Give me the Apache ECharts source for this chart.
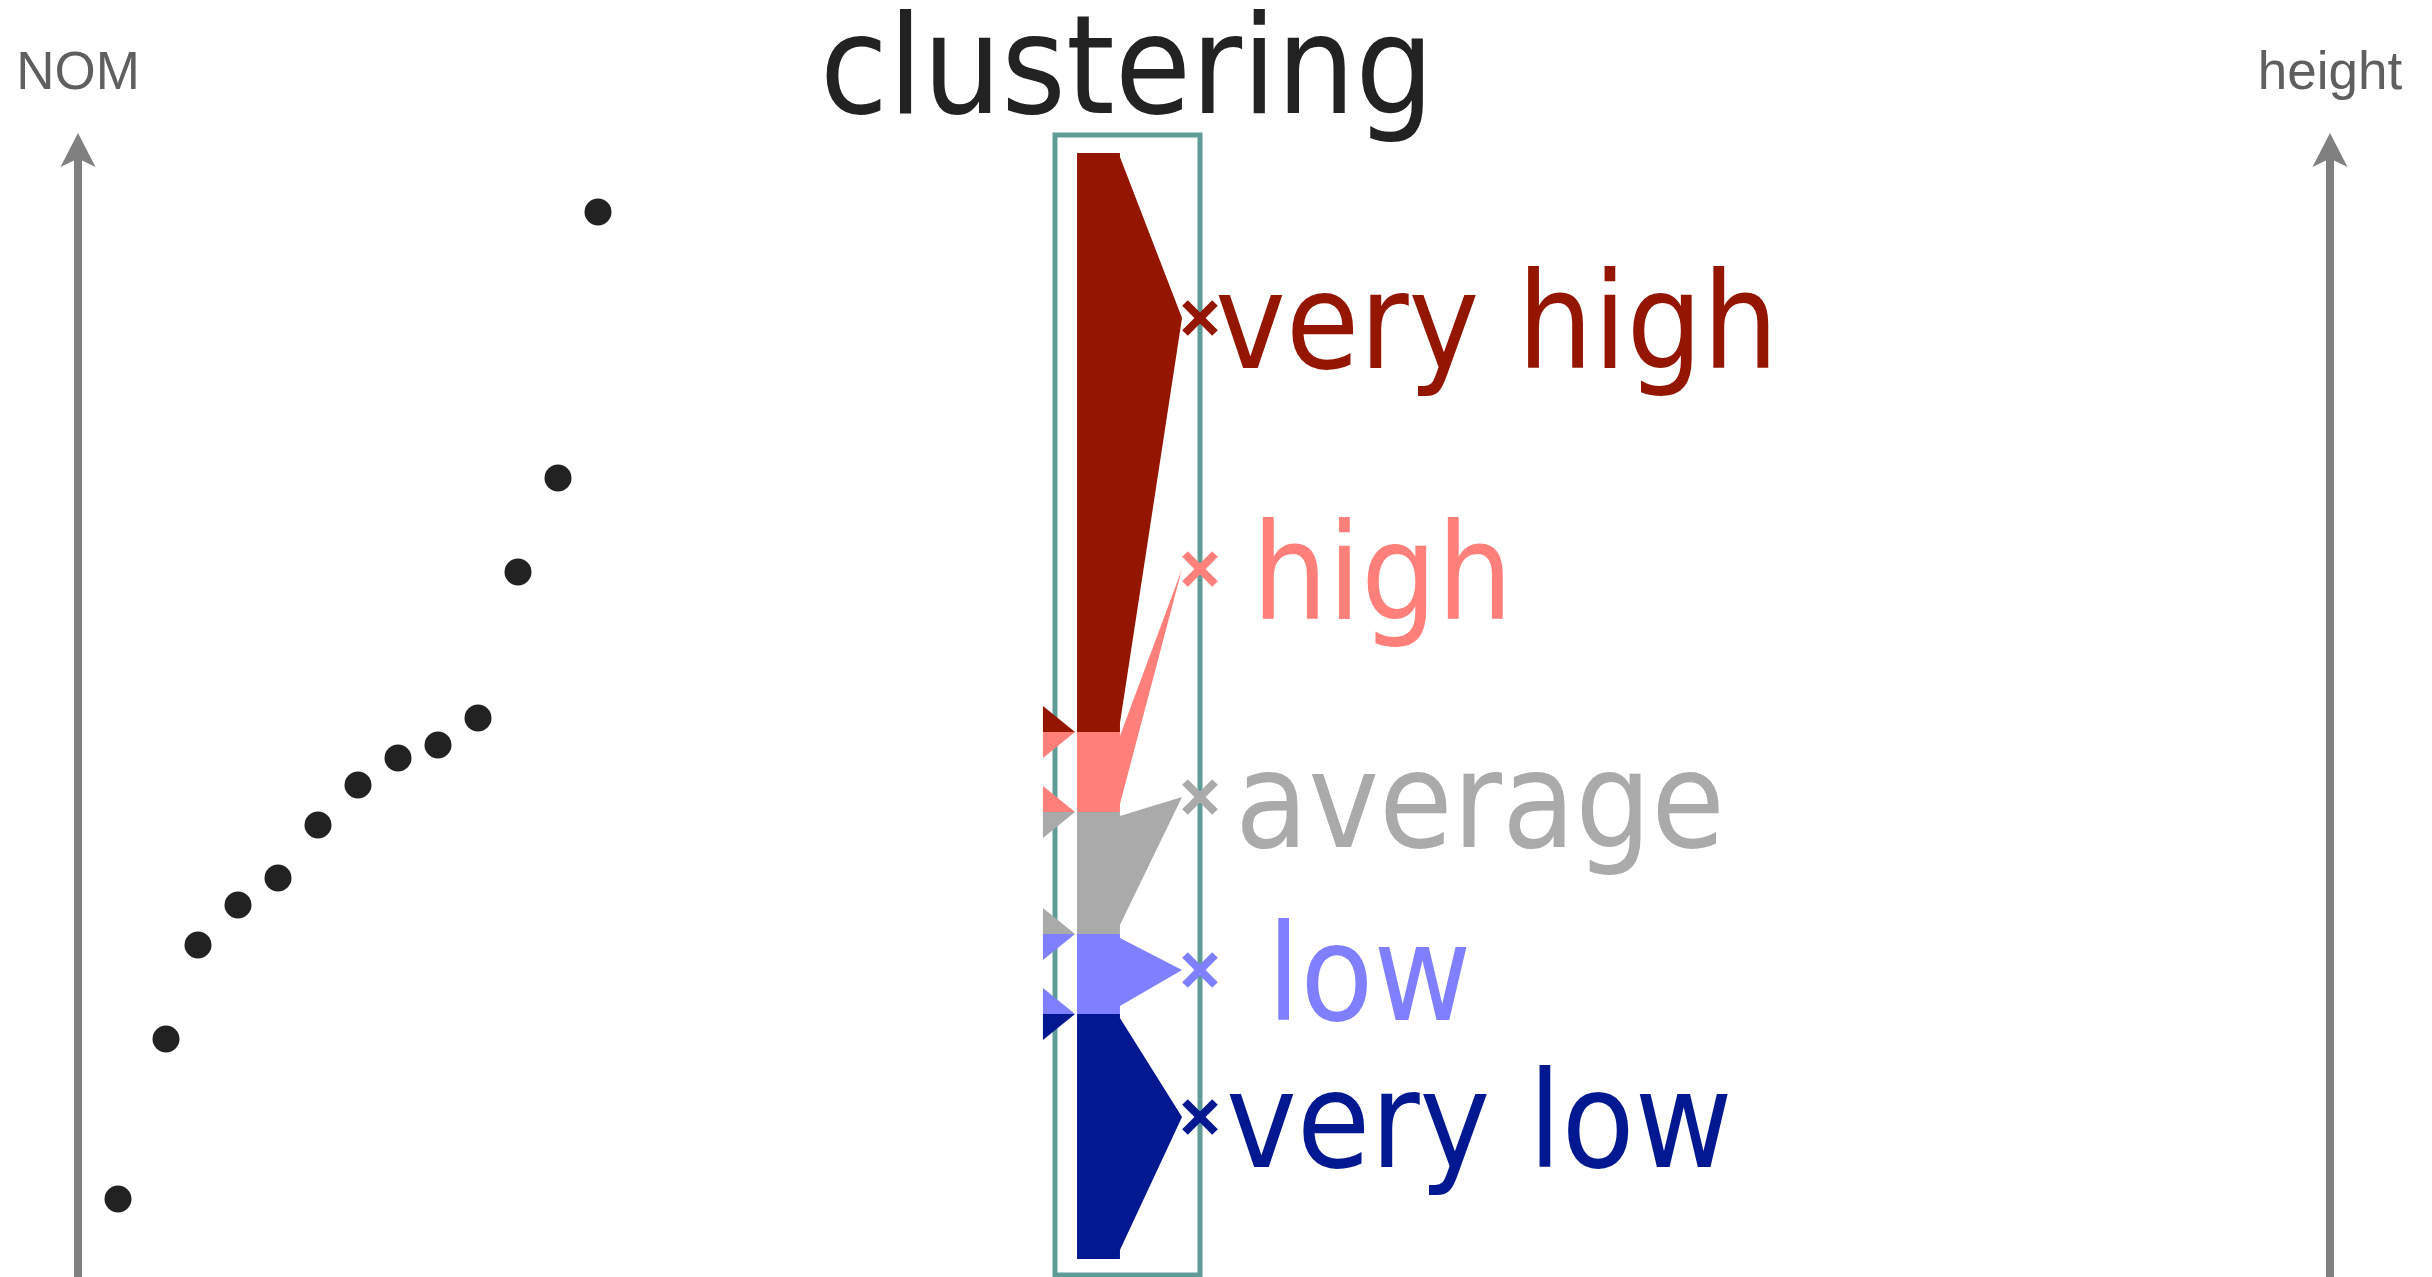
<!DOCTYPE html>
<html>
<head>
<meta charset="utf-8">
<title>clustering</title>
<script src="https://cdn.jsdelivr.net/npm/echarts@6/dist/echarts.min.js"></script>
<style>
  html, body { margin: 0; padding: 0; background: #fff; }
  #chart { width: 2432px; height: 1277px; }
</style>
</head>
<body>
<div id="chart"></div>
<script>
// NOM of each item (x = item rank, y = NOM value)
const nomX = [1, 2.2, 3, 4, 5, 6, 7, 8, 9, 10, 11, 12, 13];
const nomY = [7.8, 23.8, 33.2, 37.2, 39.9, 45.2, 49.2, 51.9, 53.2, 55.9, 70.5, 79.9, 106.5];

// clustering of the scale into five classes
const classNames = ['very high', 'high', 'average', 'low', 'very low'];
const classUpper = [112.4, 54.5, 46.5, 34.3, 26.3];
const classLower = [54.5, 46.5, 34.3, 26.3, 1.8];
const classAnchor = [95.9, 70.8, 48.0, 30.7, 16.0];

// styles
const classColors = ['#941500', '#ff807a', '#aaaaaa', '#7f7fff', '#021890'];
const labelShift = [15, 52, 35, 67, 26];
const labelFont = '133px "DejaVu Sans Condensed", "DejaVu Sans", sans-serif';
const axisGrey = '#808080';
const frameColor = '#5f9c98';

const chart = echarts.init(document.getElementById('chart'));

function renderClass(params, api) {
  const i = params.dataIndex;
  const color = classColors[i];
  const top = api.coord([0, api.value(1)]);
  const cx = top[0];
  const yTop = top[1];
  const yBot = api.coord([0, api.value(2)])[1];
  const yTip = api.coord([0, api.value(3)])[1];
  const band = api.size([1, 0])[0];
  const x0 = cx - 0.348 * band;
  const x1 = cx - 0.052 * band;
  const xTip = cx + 0.376 * band;
  const xMark = cx + 0.5 * band;
  const h = yBot - yTop;
  const inTop = Math.min(4, h * 0.05);
  const inBot = Math.min(9, h * 0.1);
  const children = [{
    type: 'polygon',
    shape: { points: [[x0, yTop], [x1, yTop], [x1, yTop + inTop], [xTip, yTip], [x1, yBot - inBot], [x1, yBot], [x0, yBot]] },
    style: { fill: color }
  }];
  // boundary arrows on the left
  const tx0 = cx - 0.583 * band;
  const tx1 = cx - 0.362 * band;
  const th = 26;
  if (i > 0) {
    children.push({ type: 'polygon', shape: { points: [[tx0, yTop], [tx1, yTop], [tx0, yTop + th]] }, style: { fill: color } });
  }
  if (i < classNames.length - 1) {
    children.push({ type: 'polygon', shape: { points: [[tx0, yBot - th], [tx1, yBot], [tx0, yBot]] }, style: { fill: color } });
  }
  // cross marker on the frame edge
  const r = 15;
  children.push({ type: 'line', shape: { x1: xMark - r, y1: yTip - r, x2: xMark + r, y2: yTip + r }, style: { stroke: color, lineWidth: 8 } });
  children.push({ type: 'line', shape: { x1: xMark - r, y1: yTip + r, x2: xMark + r, y2: yTip - r }, style: { stroke: color, lineWidth: 8 } });
  children.push({
    type: 'text',
    style: { text: classNames[i], x: xMark + labelShift[i], y: yTip + 15, fill: color, font: labelFont, verticalAlign: 'middle', align: 'left' }
  });
  return { type: 'group', children };
}

function renderFrame(params) {
  const cs = params.coordSys;
  return {
    type: 'rect',
    shape: { x: cs.x, y: cs.y + 2, width: cs.width, height: cs.height - 4 },
    style: { fill: 'transparent', stroke: frameColor, lineWidth: 5 }
  };
}

const axisName = { fontSize: 53, color: '#5f5f5f', fontFamily: 'Liberation Sans' };
const arrowLine = {
  show: true,
  symbol: ['none', 'path://M17.5,0L35,34L17.5,25.5L0,34Z'],
  symbolSize: [35, 34],
  lineStyle: { color: axisGrey, width: 8 }
};

chart.setOption({
  animation: false,
  backgroundColor: '#fff',
  title: {
    text: 'clustering',
    left: 1127,
    top: 8,
    padding: 0,
    textAlign: 'center',
    textStyle: { fontSize: 138, fontWeight: 'normal', color: '#222', fontFamily: 'DejaVu Sans Condensed' }
  },
  grid: [
    { left: 78, right: 102, top: 150, bottom: 0 },
    { left: 1055, width: 145, top: 133, bottom: 0 }
  ],
  xAxis: [
    { type: 'value', gridIndex: 0, min: 0, max: 56.3, show: false },
    { type: 'category', gridIndex: 1, data: ['clustering'], boundaryGap: true, show: false }
  ],
  yAxis: [
    {
      type: 'value', gridIndex: 0, min: 0, max: 112.7, position: 'left',
      name: 'NOM', nameLocation: 'end', nameGap: 49, nameTextStyle: axisName,
      axisLine: arrowLine, axisTick: { show: false }, axisLabel: { show: false }, splitLine: { show: false }
    },
    {
      type: 'value', gridIndex: 0, min: 0, max: 112.7, position: 'right',
      name: 'height', nameLocation: 'end', nameGap: 49, nameTextStyle: axisName,
      axisLine: arrowLine, axisTick: { show: false }, axisLabel: { show: false }, splitLine: { show: false }
    },
    { type: 'value', gridIndex: 1, min: 0, max: 114.4, show: false }
  ],
  series: [
    {
      type: 'scatter',
      xAxisIndex: 0,
      yAxisIndex: 0,
      symbolSize: 27,
      itemStyle: { color: '#222', opacity: 1 },
      data: nomX.map((x, i) => [x, nomY[i]])
    },
    {
      type: 'custom',
      xAxisIndex: 1,
      yAxisIndex: 2,
      clip: false,
      silent: true,
      z: 1,
      data: [[0, 0]],
      renderItem: renderFrame
    },
    {
      type: 'custom',
      xAxisIndex: 1,
      yAxisIndex: 2,
      clip: false,
      silent: true,
      z: 2,
      encode: { x: 0, y: [1, 2, 3] },
      data: classNames.map((n, i) => [0, classUpper[i], classLower[i], classAnchor[i]]),
      renderItem: renderClass
    }
  ]
});
</script>
</body>
</html>
